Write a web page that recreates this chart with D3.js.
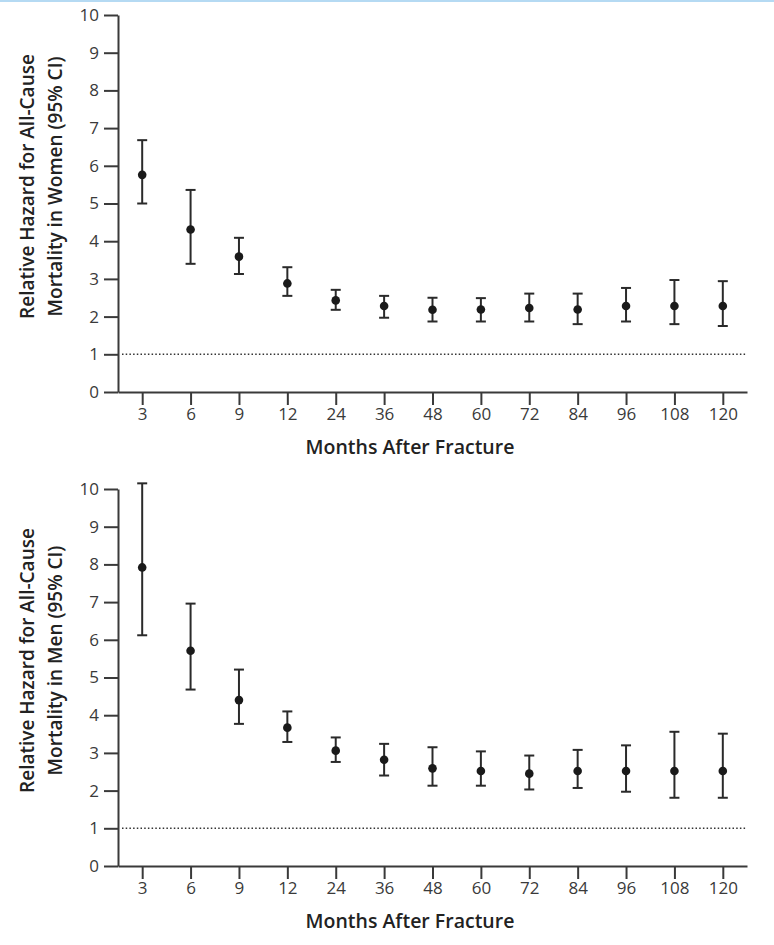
<!DOCTYPE html>
<html>
<head>
<meta charset="utf-8">
<script src="https://cdn.jsdelivr.net/npm/d3@7"></script>
<style>
  body { margin: 0; background: #fff; }
  .axis text { font-family: "Open Sans", sans-serif; font-size: 17px; fill: #3a3a3a; }
  .axis path, .axis line { stroke: #3a3a3a; stroke-width: 2px; }
  .title { font-family: "Open Sans", sans-serif; font-weight: 600; fill: #222; }
</style>
</head>
<body>
<div id="chart"></div>
<script>
// months after fracture (x categories)
var months = ["3", "6", "9", "12", "24", "36", "48", "60", "72", "84", "96", "108", "120"];

// women: relative hazard and 95% CI
var womenHR = [5.76, 4.31, 3.59, 2.88, 2.43, 2.28, 2.18, 2.19, 2.23, 2.19, 2.28, 2.28, 2.28];
var womenLo = [5.00, 3.40, 3.13, 2.55, 2.18, 1.97, 1.87, 1.87, 1.87, 1.80, 1.87, 1.80, 1.75];
var womenHi = [6.68, 5.36, 4.09, 3.31, 2.71, 2.55, 2.50, 2.49, 2.61, 2.61, 2.76, 2.97, 2.94];

// men: relative hazard and 95% CI
var menHR = [7.92, 5.71, 4.40, 3.67, 3.06, 2.82, 2.59, 2.52, 2.45, 2.52, 2.52, 2.52, 2.52];
var menLo = [6.12, 4.68, 3.77, 3.29, 2.76, 2.40, 2.13, 2.13, 2.03, 2.07, 1.97, 1.81, 1.81];
var menHi = [10.15, 6.96, 5.21, 4.10, 3.41, 3.24, 3.15, 3.04, 2.93, 3.08, 3.20, 3.56, 3.51];

var yTicks = [0, 1, 2, 3, 4, 5, 6, 7, 8, 9, 10];

var W = 774, H = 945;
var svg = d3.select("#chart")
  .append("svg")
    .attr("width", W)
    .attr("height", H);

// thin blue rule along the top edge
svg.append("rect")
  .attr("x", 0).attr("y", 0)
  .attr("width", W).attr("height", 2)
  .attr("fill", "#b5daf3");

var left = 118, right = 747, height = 377;

var x = d3.scalePoint()
  .domain(months)
  .range([left, right])
  .padding(0.5);

function panel(top, hr, lo, hi, who) {
  var g = svg.append("g").attr("transform", "translate(0," + top + ")");

  var y = d3.scaleLinear()
    .domain([0, 10])
    .range([height, 0]);

  // reference line at 1
  g.append("line")
    .attr("x1", left + 4).attr("x2", right)
    .attr("y1", y(1)).attr("y2", y(1))
    .attr("stroke", "#333")
    .attr("stroke-width", 1.6)
    .attr("stroke-dasharray", "1.5,2.2");

  // X axis
  g.append("g")
    .attr("class", "axis")
    .attr("transform", "translate(0," + height + ")")
    .call(d3.axisBottom(x).tickSize(13).tickSizeOuter(0).tickPadding(3));

  g.append("text")
    .attr("class", "title")
    .attr("x", 410)
    .attr("y", height + 62)
    .style("text-anchor", "middle")
    .style("font-size", "19.5px")
    .text("Months After Fracture");

  // Y axis
  g.append("g")
    .attr("class", "axis")
    .attr("transform", "translate(" + left + ",0)")
    .call(d3.axisLeft(y).tickValues(yTicks).tickSize(14).tickSizeOuter(0).tickPadding(5));

  var yt = g.append("text")
    .attr("class", "title")
    .attr("transform", "rotate(-90)")
    .style("text-anchor", "middle")
    .style("font-size", "19px");
  yt.append("tspan").attr("x", -(height / 2) + 17).attr("y", 34).text("Relative Hazard for All-Cause");
  yt.append("tspan").attr("x", -(height / 2) + 17).attr("y", 62).text("Mortality in " + who + " (95% CI)");

  // error bars
  var bars = g.append("g");
  months.forEach(function (m, i) {
    var cx = x(m);
    bars.append("line")
      .attr("x1", cx).attr("x2", cx)
      .attr("y1", y(lo[i])).attr("y2", y(hi[i]))
      .attr("stroke", "#2a2a2a").attr("stroke-width", 2);
    [lo[i], hi[i]].forEach(function (v) {
      bars.append("line")
        .attr("x1", cx - 5).attr("x2", cx + 5)
        .attr("y1", y(v)).attr("y2", y(v))
        .attr("stroke", "#2a2a2a").attr("stroke-width", 2);
    });
  });

  // points
  g.append("g")
    .selectAll("circle")
    .data(hr)
    .enter()
    .append("circle")
      .attr("cx", function (d, i) { return x(months[i]); })
      .attr("cy", function (d) { return y(d); })
      .attr("r", 4.3)
      .attr("fill", "#1a1a1a");
}

panel(15, womenHR, womenLo, womenHi, "Women");
panel(489, menHR, menLo, menHi, "Men");
</script>
</body>
</html>
